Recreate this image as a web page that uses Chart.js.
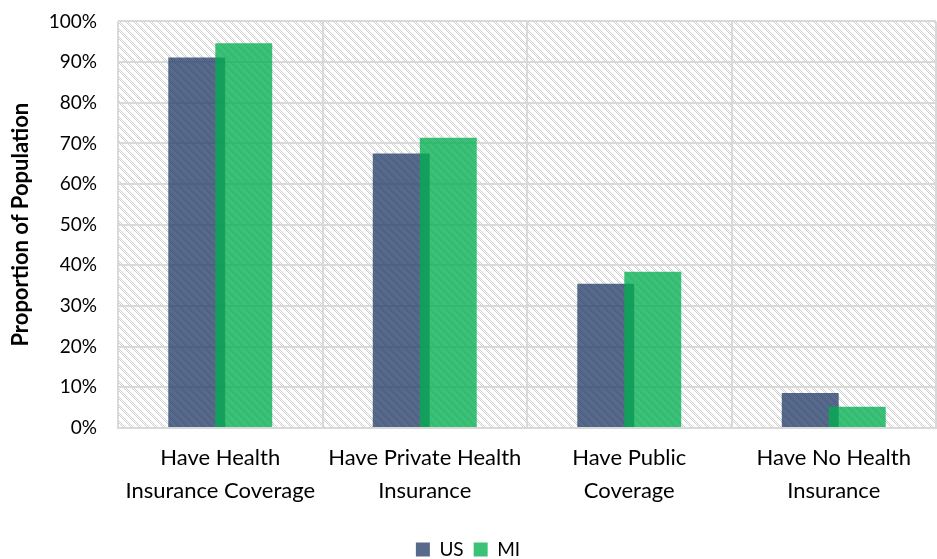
<!DOCTYPE html>
<html>
<head>
<meta charset="utf-8">
<title>Health Insurance Coverage, US vs MI</title>
<script src="https://cdn.jsdelivr.net/npm/chart.js@4"></script>
<style>
    body { margin: 0; background: #fff; }
    #wrap { width: 937px; height: 559px; position: relative; }
</style>
</head>
<body>
<div id="wrap"><canvas id="chart"></canvas></div>
<script>
// datos
const categories = [
    ["Have Health", "Insurance Coverage"],
    ["Have Private Health", "Insurance"],
    ["Have Public", "Coverage"],
    ["Have No Health", "Insurance"]
];
const usValues = [91.1, 67.5, 35.5, 8.6];
const miValues = [94.6, 71.4, 38.4, 5.2];
const seriesNames = ["US", "MI"];

const FONT = "Lato, 'Liberation Sans', sans-serif";

// fondo rayado del area del grafico
function makeHatch(ctx) {
    const c = document.createElement('canvas');
    c.width = 8; c.height = 8;
    const g = c.getContext('2d');
    g.fillStyle = '#ffffff';
    g.fillRect(0, 0, 8, 8);
    g.fillStyle = '#d0d0d0';
    for (let y = 0; y < 8; y++) {
        for (let x = 0; x < 8; x++) {
            const d = (x - y + 16) % 8;
            if (d < 3 && (x + y) % 2 === 0) g.fillRect(x, y, 1, 1);
        }
    }
    return ctx.createPattern(c, 'repeat');
}

const hatchBackground = {
    id: 'hatchBackground',
    beforeDraw(chart) {
        const {ctx, chartArea} = chart;
        ctx.save();
        ctx.fillStyle = makeHatch(ctx);
        ctx.fillRect(chartArea.left, chartArea.top, chartArea.right - chartArea.left, chartArea.bottom - chartArea.top);
        ctx.restore();
    }
};

// MI se dibuja encima de US (como en Excel)
const miOnTop = {
    id: 'miOnTop',
    beforeDatasetDraw(chart, args) {
        if (args.index === 1 && !chart.$miPass) return false;
    },
    afterDatasetsDraw(chart) {
        chart.$miPass = true;
        chart.getDatasetMeta(1).controller.draw();
        chart.$miPass = false;
    }
};

const ctx = document.getElementById('chart').getContext('2d');
new Chart(ctx, {
    type: 'bar',
    data: {
        labels: categories,
        datasets: [
            {
                label: seriesNames[0],
                data: usValues,
                backgroundColor: 'rgba(31, 56, 100, 0.75)',
                borderWidth: 0,
                categoryPercentage: 0.46,
                barPercentage: 1.21
            },
            {
                label: seriesNames[1],
                data: miValues,
                backgroundColor: 'rgba(0, 176, 80, 0.77)',
                borderWidth: 0,
                categoryPercentage: 0.46,
                barPercentage: 1.21
            }
        ]
    },
    options: {
        responsive: true,
        maintainAspectRatio: false,
        animation: false,
        layout: { padding: { top: 0, right: 1, left: 0, bottom: -10 } },
        plugins: {
            legend: {
                position: 'bottom',
                labels: {
                    boxWidth: 14,
                    boxHeight: 14,
                    padding: 10,
                    color: '#000',
                    font: { family: FONT, size: 19 }
                }
            },
            tooltip: { enabled: false }
        },
        scales: {
            x: {
                grid: {
                    display: true,
                    color: '#d9d9d9',
                    lineWidth: 2,
                    drawTicks: false
                },
                border: { color: '#d9d9d9', width: 2 },
                ticks: {
                    color: '#000',
                    padding: 13,
                    maxRotation: 0,
                    autoSkip: false,
                    font: { family: FONT, size: 22, lineHeight: 1.5 }
                },
                afterFit(scale) { scale.height = 102; }
            },
            y: {
                min: 0,
                max: 100,
                grid: {
                    color: '#d9d9d9',
                    lineWidth: 2,
                    drawTicks: true,
                    tickLength: 11,
                    tickColor: 'rgba(0,0,0,0)'
                },
                border: { display: false },
                ticks: {
                    stepSize: 10,
                    color: '#000',
                    padding: 10,
                    font: { family: FONT, size: 19 },
                    callback: (v) => v + '%'
                },
                title: {
                    display: true,
                    text: 'Proportion of Population',
                    color: '#000',
                    padding: { top: 8, bottom: 0 },
                    font: { family: FONT, size: 22, weight: 'bold' }
                },
                afterFit(scale) { scale.width = 118; }
            }
        }
    },
    plugins: [hatchBackground, miOnTop]
});
</script>
</body>
</html>
